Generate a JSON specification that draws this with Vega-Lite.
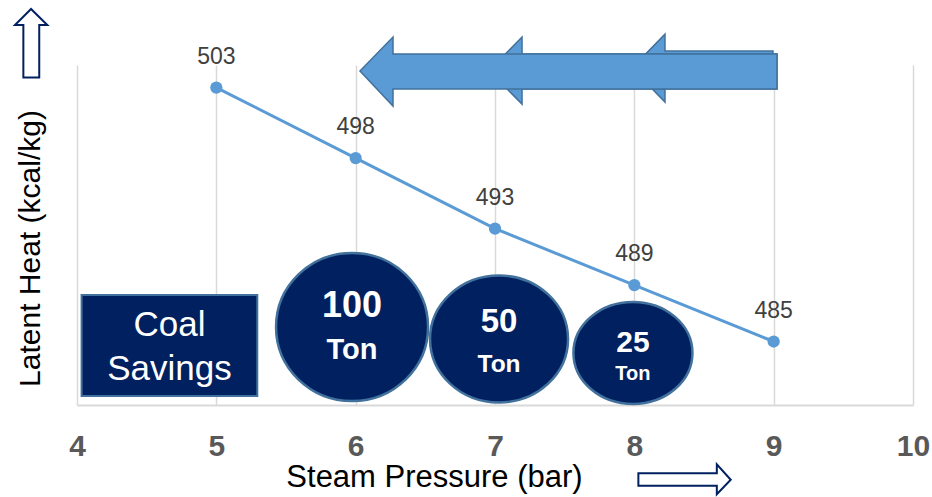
{
  "$schema": "https://vega.github.io/schema/vega-lite/v6.json",
  "width": 836,
  "height": 340,
  "autosize": {"type": "none"},
  "padding": {"left": 77, "top": 65, "right": 19, "bottom": 92},
  "background": "white",
  "config": {"view": {"stroke": null}, "font": "Liberation Sans"},
  "datasets": {
    "heat": [
      {"pressure": 5, "heat": 503},
      {"pressure": 6, "heat": 498},
      {"pressure": 7, "heat": 493},
      {"pressure": 8, "heat": 489},
      {"pressure": 9, "heat": 485}
    ],
    "savings": [
      {"pressure": 5.974, "heat": 486.03, "numHeat": 487.52, "unitHeat": 484.4, "tons": 100},
      {"pressure": 7.029, "heat": 485.18, "numHeat": 486.38, "unitHeat": 483.33, "tons": 50},
      {"pressure": 7.99, "heat": 484.19, "numHeat": 484.89, "unitHeat": 482.7, "tons": 25}
    ],
    "box": [
      {"pressure": 4.033, "pressure2": 5.294, "heat": 488.3, "heat2": 481.14, "textPressure": 4.664, "textHeat": 486.17, "label": "Coal Savings"}
    ],
    "bigArrows": [
      {"arrow": "a1", "pressure": 6.031, "heat": 504.17, "heat2": 504.17},
      {"arrow": "a1", "pressure": 6.268, "heat": 506.58, "heat2": 501.69},
      {"arrow": "a1", "pressure": 6.268, "heat": 505.38, "heat2": 502.9},
      {"arrow": "a1", "pressure": 9.024, "heat": 505.38, "heat2": 502.9},
      {"arrow": "a2", "pressure": 6.957, "heat": 504.2, "heat2": 504.2},
      {"arrow": "a2", "pressure": 7.194, "heat": 506.58, "heat2": 501.83},
      {"arrow": "a2", "pressure": 7.194, "heat": 505.38, "heat2": 502.9},
      {"arrow": "a2", "pressure": 9.024, "heat": 505.38, "heat2": 502.9},
      {"arrow": "a3", "pressure": 7.983, "heat": 504.38, "heat2": 504.38},
      {"arrow": "a3", "pressure": 8.22, "heat": 506.79, "heat2": 501.97},
      {"arrow": "a3", "pressure": 8.22, "heat": 505.59, "heat2": 503.07},
      {"arrow": "a3", "pressure": 8.995, "heat": 505.59, "heat2": 503.07}
    ],
    "upArrow": [
      {"heat": 508.57, "pressure": 3.67, "pressure2": 3.67},
      {"heat": 507.43, "pressure": 3.555, "pressure2": 3.787},
      {"heat": 507.43, "pressure": 3.615, "pressure2": 3.729},
      {"heat": 503.72, "pressure": 3.615, "pressure2": 3.729}
    ],
    "rightArrow": [
      {"pressure": 8.029, "heat": 475.66, "heat2": 474.78},
      {"pressure": 8.592, "heat": 475.66, "heat2": 474.78},
      {"pressure": 8.592, "heat": 476.3, "heat2": 474.17},
      {"pressure": 8.692, "heat": 475.2, "heat2": 475.2}
    ]
  },
  "layer": [
    {
      "data": {"name": "heat"},
      "mark": {"type": "line", "color": "#5B9BD5", "strokeWidth": 3},
      "encoding": {
        "x": {
          "field": "pressure", "type": "quantitative",
          "scale": {"domain": [4, 10], "nice": false, "zero": false},
          "axis": {
            "title": "Steam Pressure (bar)",
            "values": [4, 5, 6, 7, 8, 9, 10],
            "format": "d",
            "grid": true, "gridColor": "#D9D9D9", "gridWidth": 1.5,
            "domainColor": "#D9D9D9", "domainWidth": 2,
            "ticks": false,
            "labelFontWeight": "bold", "labelFontSize": 30, "labelColor": "#595959",
            "labelPadding": 26, "labelFlush": false, "labelOverlap": false,
            "titleFontSize": 31, "titleFontWeight": "normal", "titleColor": "#000000",
            "titleX": 357, "titleY": 72, "titleBaseline": "middle", "titleAlign": "center", "titleAnchor": "start"
          }
        },
        "y": {
          "field": "heat", "type": "quantitative",
          "scale": {"domain": [480.5, 504.6], "nice": false, "zero": false},
          "axis": {
            "title": "Latent Heat (kcal/kg)",
            "labels": false, "ticks": false, "domain": false, "grid": false,
            "titleFontSize": 30, "titleFontWeight": "normal", "titleColor": "#000000",
            "titleX": -47, "titleY": 183, "titleAngle": -90,
            "titleBaseline": "middle", "titleAlign": "center", "titleAnchor": "start"
          }
        }
      }
    },
    {
      "data": {"name": "heat"},
      "mark": {"type": "point", "filled": true, "size": 150, "color": "#5B9BD5", "opacity": 1},
      "encoding": {
        "x": {"field": "pressure", "type": "quantitative", "scale": {"domain": [4, 10], "nice": false, "zero": false}},
        "y": {"field": "heat", "type": "quantitative", "scale": {"domain": [480.5, 504.6], "nice": false, "zero": false}}
      }
    },
    {
      "data": {"name": "heat"},
      "mark": {"type": "text", "fontSize": 23, "color": "#404040", "baseline": "alphabetic", "dy": -24},
      "encoding": {
        "x": {"field": "pressure", "type": "quantitative", "scale": {"domain": [4, 10], "nice": false, "zero": false}},
        "y": {"field": "heat", "type": "quantitative", "scale": {"domain": [480.5, 504.6], "nice": false, "zero": false}},
        "text": {"field": "heat", "type": "quantitative"}
      }
    },
    {
      "data": {"name": "box"},
      "mark": {"type": "rect", "fill": "#002060", "stroke": "#41719C", "strokeWidth": 2},
      "encoding": {
        "x": {"field": "pressure", "type": "quantitative", "scale": {"domain": [4, 10], "nice": false, "zero": false}},
        "x2": {"field": "pressure2"},
        "y": {"field": "heat", "type": "quantitative", "scale": {"domain": [480.5, 504.6], "nice": false, "zero": false}},
        "y2": {"field": "heat2"}
      }
    },
    {
      "data": {"name": "box"},
      "mark": {"type": "text", "fontSize": 35, "lineHeight": 44, "lineBreak": " ", "color": "white", "baseline": "middle", "align": "center"},
      "encoding": {
        "x": {"field": "textPressure", "type": "quantitative", "scale": {"domain": [4, 10], "nice": false, "zero": false}},
        "y": {"field": "textHeat", "type": "quantitative", "scale": {"domain": [480.5, 504.6], "nice": false, "zero": false}},
        "text": {"field": "label"}
      }
    },
    {
      "data": {"name": "savings"},
      "mark": {"type": "point", "filled": true, "fill": "#002060", "stroke": "#41719C", "strokeWidth": 2.5, "opacity": 1, "fillOpacity": 1},
      "encoding": {
        "x": {"field": "pressure", "type": "quantitative", "scale": {"domain": [4, 10], "nice": false, "zero": false}},
        "y": {"field": "heat", "type": "quantitative", "scale": {"domain": [480.5, 504.6], "nice": false, "zero": false}},
        "size": {"field": "tons", "type": "quantitative", "legend": null,
                 "scale": {"type": "linear", "domain": [25, 50, 100], "range": [14161, 19044, 23104]}},
        "shape": {"field": "tons", "type": "nominal", "legend": null,
                  "scale": {"domain": [100, 50, 25],
                            "range": ["M-1,0A1,0.974,0,1,1,1,0A1,0.974,0,1,1,-1,0Z",
                                      "M-1,0A1,0.92,0,1,1,1,0A1,0.92,0,1,1,-1,0Z",
                                      "M-1,0A1,0.857,0,1,1,1,0A1,0.857,0,1,1,-1,0Z"]}}
      }
    },
    {
      "data": {"name": "savings"},
      "mark": {"type": "text", "fontWeight": "bold", "color": "white", "baseline": "middle", "align": "center"},
      "encoding": {
        "x": {"field": "pressure", "type": "quantitative", "scale": {"domain": [4, 10], "nice": false, "zero": false}},
        "y": {"field": "numHeat", "type": "quantitative", "scale": {"domain": [480.5, 504.6], "nice": false, "zero": false}},
        "text": {"field": "tons", "type": "quantitative"},
        "size": {"field": "tons", "type": "ordinal", "legend": null,
                 "scale": {"domain": [25, 50, 100], "range": [30, 36, 36]}}
      }
    },
    {
      "data": {"name": "savings"},
      "mark": {"type": "text", "fontWeight": "bold", "color": "white", "baseline": "middle", "align": "center"},
      "encoding": {
        "x": {"field": "pressure", "type": "quantitative", "scale": {"domain": [4, 10], "nice": false, "zero": false}},
        "y": {"field": "unitHeat", "type": "quantitative", "scale": {"domain": [480.5, 504.6], "nice": false, "zero": false}},
        "text": {"value": "Ton"},
        "size": {"field": "tons", "type": "ordinal", "legend": null,
                 "scale": {"domain": [25, 50, 100], "range": [20, 29, 33]}}
      }
    },
    {
      "data": {"name": "bigArrows"},
      "transform": [{"filter": "datum.arrow === 'a3'"}],
      "mark": {"type": "area", "fill": "#5B9BD5", "stroke": "#41719C", "strokeWidth": 1.5, "opacity": 1},
      "encoding": {
        "x": {"field": "pressure", "type": "quantitative", "scale": {"domain": [4, 10], "nice": false, "zero": false}},
        "y": {"field": "heat", "type": "quantitative", "scale": {"domain": [480.5, 504.6], "nice": false, "zero": false}},
        "y2": {"field": "heat2"}
      }
    },
    {
      "data": {"name": "bigArrows"},
      "transform": [{"filter": "datum.arrow === 'a2'"}],
      "mark": {"type": "area", "fill": "#5B9BD5", "stroke": "#41719C", "strokeWidth": 1.5, "opacity": 1},
      "encoding": {
        "x": {"field": "pressure", "type": "quantitative", "scale": {"domain": [4, 10], "nice": false, "zero": false}},
        "y": {"field": "heat", "type": "quantitative", "scale": {"domain": [480.5, 504.6], "nice": false, "zero": false}},
        "y2": {"field": "heat2"}
      }
    },
    {
      "data": {"name": "bigArrows"},
      "transform": [{"filter": "datum.arrow === 'a1'"}],
      "mark": {"type": "area", "fill": "#5B9BD5", "stroke": "#41719C", "strokeWidth": 1.5, "opacity": 1},
      "encoding": {
        "x": {"field": "pressure", "type": "quantitative", "scale": {"domain": [4, 10], "nice": false, "zero": false}},
        "y": {"field": "heat", "type": "quantitative", "scale": {"domain": [480.5, 504.6], "nice": false, "zero": false}},
        "y2": {"field": "heat2"}
      }
    },
    {
      "data": {"name": "upArrow"},
      "mark": {"type": "area", "orient": "horizontal", "fill": "white", "stroke": "#002060", "strokeWidth": 2, "opacity": 1},
      "encoding": {
        "x": {"field": "pressure", "type": "quantitative", "scale": {"domain": [4, 10], "nice": false, "zero": false}},
        "x2": {"field": "pressure2"},
        "y": {"field": "heat", "type": "quantitative", "scale": {"domain": [480.5, 504.6], "nice": false, "zero": false}}
      }
    },
    {
      "data": {"name": "rightArrow"},
      "mark": {"type": "area", "fill": "white", "stroke": "#002060", "strokeWidth": 2, "opacity": 1},
      "encoding": {
        "x": {"field": "pressure", "type": "quantitative", "scale": {"domain": [4, 10], "nice": false, "zero": false}},
        "y": {"field": "heat", "type": "quantitative", "scale": {"domain": [480.5, 504.6], "nice": false, "zero": false}},
        "y2": {"field": "heat2"}
      }
    }
  ]
}
